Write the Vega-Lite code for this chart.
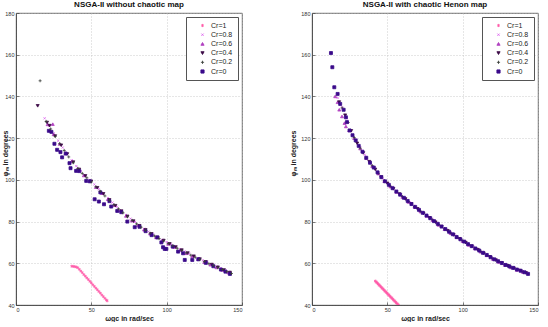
{
  "$schema": "https://vega.github.io/schema/vega-lite/v6.json",
  "padding": {"left": 0, "top": 0, "right": 0, "bottom": 0},
  "background": "white",
  "bounds": "flush",
  "spacing": 70,
  "config": {
    "font": "Liberation Sans",
    "view": {"stroke": "#444", "strokeWidth": 0.8},
    "axis": {
      "labelFontSize": 5.5, "labelColor": "#333", "labelPadding": 5,
      "titleFontSize": 7, "titleFontWeight": "bold", "titleColor": "#222",
      "domainColor": "#444", "domainWidth": 0.8,
      "tickColor": "#444", "tickSize": -3, "tickWidth": 0.7,
      "gridColor": "#b8b8b8", "gridDash": [1, 2], "gridWidth": 0.7
    },
    "title": {"fontSize": 8, "fontWeight": "bold", "offset": 4, "dy": 2, "color": "#111"},
    "legend": {
      "orient": "top-right", "offset": 4, "padding": 5,
      "fillColor": "white", "strokeColor": "#555",
      "labelFontSize": 7, "labelColor": "#222", "labelOffset": 5,
      "symbolOffset": 8, "symbolSize": 10, "symbolStrokeWidth": 0.9,
      "rowPadding": 1.2, "title": null
    }
  },
  "datasets": {
    "left": [
      {"c":"Cr=1","x":37,"y":58.6},{"c":"Cr=1","x":38,"y":58.5},{"c":"Cr=1","x":39,"y":58.4},{"c":"Cr=1","x":40,"y":58.2},{"c":"Cr=1","x":41,"y":57.9},{"c":"Cr=1","x":42,"y":57.1},{"c":"Cr=1","x":43,"y":56.3},{"c":"Cr=1","x":44,"y":55.5},{"c":"Cr=1","x":45,"y":54.6},{"c":"Cr=1","x":46,"y":53.8},{"c":"Cr=1","x":47,"y":53},{"c":"Cr=1","x":48,"y":52.2},{"c":"Cr=1","x":49,"y":51.4},{"c":"Cr=1","x":50,"y":50.6},{"c":"Cr=1","x":51,"y":49.7},{"c":"Cr=1","x":52,"y":48.9},{"c":"Cr=1","x":53,"y":48.1},{"c":"Cr=1","x":54,"y":47.3},{"c":"Cr=1","x":55,"y":46.5},{"c":"Cr=1","x":56,"y":45.7},{"c":"Cr=1","x":57,"y":44.8},{"c":"Cr=1","x":58,"y":44},{"c":"Cr=1","x":59,"y":43.2},{"c":"Cr=1","x":60,"y":42.4},{"c":"Cr=1","x":60.5,"y":42},
      {"c":"Cr=0.8","x":19,"y":129.5},{"c":"Cr=0.8","x":22,"y":125.9},{"c":"Cr=0.8","x":25,"y":122.3},{"c":"Cr=0.8","x":28,"y":118.8},{"c":"Cr=0.8","x":31,"y":115.5},{"c":"Cr=0.8","x":34,"y":112.3},{"c":"Cr=0.8","x":37,"y":109.4},{"c":"Cr=0.8","x":40,"y":106.6},{"c":"Cr=0.8","x":43,"y":104.2},{"c":"Cr=0.8","x":46,"y":101.9},{"c":"Cr=0.8","x":49,"y":100},{"c":"Cr=0.8","x":52,"y":97.8},{"c":"Cr=0.8","x":55,"y":95.5},{"c":"Cr=0.8","x":58,"y":93.4},{"c":"Cr=0.8","x":61,"y":91.2},{"c":"Cr=0.8","x":64,"y":89.1},{"c":"Cr=0.8","x":67,"y":87.1},{"c":"Cr=0.8","x":70,"y":85.1},{"c":"Cr=0.8","x":73,"y":83.2},{"c":"Cr=0.8","x":76,"y":81.4},{"c":"Cr=0.8","x":79,"y":79.8},{"c":"Cr=0.8","x":82,"y":78.2},{"c":"Cr=0.8","x":85,"y":76.6},{"c":"Cr=0.8","x":88,"y":75.2},{"c":"Cr=0.8","x":91,"y":73.8},{"c":"Cr=0.8","x":94,"y":72.5},{"c":"Cr=0.8","x":97,"y":71.3},{"c":"Cr=0.8","x":100,"y":70.2},{"c":"Cr=0.8","x":103,"y":69.1},{"c":"Cr=0.8","x":106,"y":67.9},{"c":"Cr=0.8","x":109,"y":66.8},{"c":"Cr=0.8","x":112,"y":65.7},{"c":"Cr=0.8","x":115,"y":64.6},{"c":"Cr=0.8","x":118,"y":63.5},{"c":"Cr=0.8","x":121,"y":62.5},{"c":"Cr=0.8","x":124,"y":61.4},{"c":"Cr=0.8","x":127,"y":60.5},{"c":"Cr=0.8","x":130,"y":59.5},{"c":"Cr=0.8","x":133,"y":58.5},{"c":"Cr=0.8","x":136,"y":57.6},{"c":"Cr=0.8","x":139,"y":56.6},{"c":"Cr=0.8","x":142,"y":55.7},
      {"c":"Cr=0.6","x":21,"y":126.6},{"c":"Cr=0.6","x":24.4,"y":126.7},{"c":"Cr=0.6","x":25,"y":121.8},{"c":"Cr=0.6","x":29,"y":117.2},{"c":"Cr=0.6","x":33,"y":112.9},{"c":"Cr=0.6","x":37,"y":108.9},{"c":"Cr=0.6","x":41,"y":105.3},{"c":"Cr=0.6","x":45,"y":102.1},{"c":"Cr=0.6","x":49,"y":99.5},{"c":"Cr=0.6","x":53,"y":96.5},{"c":"Cr=0.6","x":57,"y":93.6},{"c":"Cr=0.6","x":61,"y":90.7},{"c":"Cr=0.6","x":65,"y":87.9},{"c":"Cr=0.6","x":69,"y":85.3},{"c":"Cr=0.6","x":73,"y":82.7},{"c":"Cr=0.6","x":77,"y":80.4},{"c":"Cr=0.6","x":81,"y":78.2},{"c":"Cr=0.6","x":85,"y":76.1},{"c":"Cr=0.6","x":89,"y":74.2},{"c":"Cr=0.6","x":93,"y":72.4},{"c":"Cr=0.6","x":97,"y":70.8},{"c":"Cr=0.6","x":101,"y":69.3},{"c":"Cr=0.6","x":105,"y":67.8},{"c":"Cr=0.6","x":109,"y":66.3},{"c":"Cr=0.6","x":113,"y":64.8},{"c":"Cr=0.6","x":117,"y":63.4},{"c":"Cr=0.6","x":121,"y":62},{"c":"Cr=0.6","x":125,"y":60.6},{"c":"Cr=0.6","x":129,"y":59.3},{"c":"Cr=0.6","x":133,"y":58},{"c":"Cr=0.6","x":137,"y":56.8},{"c":"Cr=0.6","x":141,"y":55.5},
      {"c":"Cr=0.4","x":14.4,"y":135.5},{"c":"Cr=0.4","x":20.6,"y":127.5},{"c":"Cr=0.4","x":22.3,"y":126},{"c":"Cr=0.4","x":26,"y":121},{"c":"Cr=0.4","x":30,"y":116.6},{"c":"Cr=0.4","x":34,"y":112.4},{"c":"Cr=0.4","x":38,"y":108.5},{"c":"Cr=0.4","x":42,"y":105},{"c":"Cr=0.4","x":46,"y":101.9},{"c":"Cr=0.4","x":50,"y":99.3},{"c":"Cr=0.4","x":54,"y":96.2},{"c":"Cr=0.4","x":58,"y":93.3},{"c":"Cr=0.4","x":62,"y":90.4},{"c":"Cr=0.4","x":66,"y":87.6},{"c":"Cr=0.4","x":70,"y":85},{"c":"Cr=0.4","x":74,"y":82.5},{"c":"Cr=0.4","x":78,"y":80.2},{"c":"Cr=0.4","x":82,"y":78},{"c":"Cr=0.4","x":86,"y":76},{"c":"Cr=0.4","x":90,"y":74.1},{"c":"Cr=0.4","x":94,"y":72.4},{"c":"Cr=0.4","x":98,"y":70.9},{"c":"Cr=0.4","x":102,"y":69.3},{"c":"Cr=0.4","x":106,"y":67.8},{"c":"Cr=0.4","x":110,"y":66.3},{"c":"Cr=0.4","x":114,"y":64.9},{"c":"Cr=0.4","x":118,"y":63.4},{"c":"Cr=0.4","x":122,"y":62},{"c":"Cr=0.4","x":126,"y":60.7},{"c":"Cr=0.4","x":130,"y":59.4},{"c":"Cr=0.4","x":134,"y":58.1},{"c":"Cr=0.4","x":138,"y":56.8},{"c":"Cr=0.4","x":142,"y":55.6},
      {"c":"Cr=0","x":21.8,"y":123.5},{"c":"Cr=0","x":23.5,"y":123},{"c":"Cr=0","x":25.5,"y":117.3},{"c":"Cr=0","x":27.3,"y":114.4},{"c":"Cr=0","x":29.5,"y":113.3},{"c":"Cr=0","x":30.6,"y":110.8},{"c":"Cr=0","x":33,"y":112.6},{"c":"Cr=0","x":35.5,"y":108},{"c":"Cr=0","x":36.2,"y":105.6},{"c":"Cr=0","x":39.9,"y":104.3},{"c":"Cr=0","x":42,"y":104.2},{"c":"Cr=0","x":46.6,"y":99.5},{"c":"Cr=0","x":49,"y":99.3},{"c":"Cr=0","x":52.2,"y":90.7},{"c":"Cr=0","x":55,"y":89.6},{"c":"Cr=0","x":56,"y":94},{"c":"Cr=0","x":58.4,"y":88.3},{"c":"Cr=0","x":62,"y":89.8},{"c":"Cr=0","x":63.2,"y":87.2},{"c":"Cr=0","x":67.2,"y":85.1},{"c":"Cr=0","x":69.9,"y":84.5},{"c":"Cr=0","x":73.9,"y":80},{"c":"Cr=0","x":78.8,"y":77.3},{"c":"Cr=0","x":82,"y":77.5},{"c":"Cr=0","x":86,"y":75.4},{"c":"Cr=0","x":90,"y":73.5},{"c":"Cr=0","x":93.8,"y":72.4},{"c":"Cr=0","x":96.5,"y":70},{"c":"Cr=0","x":97.6,"y":67.7},{"c":"Cr=0","x":98.7,"y":66.9},{"c":"Cr=0","x":99.8,"y":66.9},{"c":"Cr=0","x":104,"y":68},{"c":"Cr=0","x":107.6,"y":65.6},{"c":"Cr=0","x":110.9,"y":64.8},{"c":"Cr=0","x":112,"y":61.6},{"c":"Cr=0","x":117,"y":61.6},{"c":"Cr=0","x":121,"y":61.9},{"c":"Cr=0","x":126,"y":60.2},{"c":"Cr=0","x":131,"y":58.6},{"c":"Cr=0","x":136,"y":57},{"c":"Cr=0","x":139,"y":56},{"c":"Cr=0","x":142,"y":54.9},
      {"c":"Cr=0.2","x":16,"y":147.5},{"c":"Cr=0.2","x":20,"y":128},{"c":"Cr=0.2","x":23,"y":124.4},{"c":"Cr=0.2","x":26,"y":120.8},{"c":"Cr=0.2","x":29,"y":117.4},{"c":"Cr=0.2","x":32,"y":114.1},{"c":"Cr=0.2","x":35,"y":111},{"c":"Cr=0.2","x":38,"y":108.2},{"c":"Cr=0.2","x":41,"y":105.5},{"c":"Cr=0.2","x":44,"y":103.1},{"c":"Cr=0.2","x":47,"y":101},{"c":"Cr=0.2","x":50,"y":99},{"c":"Cr=0.2","x":53,"y":96.7},{"c":"Cr=0.2","x":56,"y":94.5},{"c":"Cr=0.2","x":59,"y":92.3},{"c":"Cr=0.2","x":62,"y":90.2},{"c":"Cr=0.2","x":65,"y":88.1},{"c":"Cr=0.2","x":68,"y":86.1},{"c":"Cr=0.2","x":71,"y":84.2},{"c":"Cr=0.2","x":74,"y":82.3},{"c":"Cr=0.2","x":77,"y":80.6},{"c":"Cr=0.2","x":80,"y":78.9},{"c":"Cr=0.2","x":83,"y":77.3},{"c":"Cr=0.2","x":86,"y":75.8},{"c":"Cr=0.2","x":89,"y":74.4},{"c":"Cr=0.2","x":92,"y":73.1},{"c":"Cr=0.2","x":95,"y":71.8},{"c":"Cr=0.2","x":98,"y":70.7},{"c":"Cr=0.2","x":101,"y":69.5},{"c":"Cr=0.2","x":104,"y":68.4},{"c":"Cr=0.2","x":107,"y":67.2},{"c":"Cr=0.2","x":110,"y":66.1},{"c":"Cr=0.2","x":113,"y":65},{"c":"Cr=0.2","x":116,"y":63.9},{"c":"Cr=0.2","x":119,"y":62.9},{"c":"Cr=0.2","x":122,"y":61.8},{"c":"Cr=0.2","x":125,"y":60.8},{"c":"Cr=0.2","x":128,"y":59.8},{"c":"Cr=0.2","x":131,"y":58.9},{"c":"Cr=0.2","x":134,"y":57.9},{"c":"Cr=0.2","x":137,"y":57},{"c":"Cr=0.2","x":140,"y":56},{"c":"Cr=0.2","x":143,"y":55.1}
    ],
    "right": [
      {"c":"Cr=1","x":42,"y":51.5},{"c":"Cr=1","x":42.5,"y":51.1},{"c":"Cr=1","x":43,"y":50.8},{"c":"Cr=1","x":43.5,"y":50.4},{"c":"Cr=1","x":44,"y":50},{"c":"Cr=1","x":44.5,"y":49.6},{"c":"Cr=1","x":45,"y":49.3},{"c":"Cr=1","x":45.5,"y":48.9},{"c":"Cr=1","x":46,"y":48.5},{"c":"Cr=1","x":46.5,"y":48.1},{"c":"Cr=1","x":47,"y":47.8},{"c":"Cr=1","x":47.5,"y":47.4},{"c":"Cr=1","x":48,"y":47},{"c":"Cr=1","x":48.5,"y":46.6},{"c":"Cr=1","x":49,"y":46.3},{"c":"Cr=1","x":49.5,"y":45.9},{"c":"Cr=1","x":50,"y":45.5},{"c":"Cr=1","x":50.5,"y":45.1},{"c":"Cr=1","x":51,"y":44.8},{"c":"Cr=1","x":51.5,"y":44.4},{"c":"Cr=1","x":52,"y":44},{"c":"Cr=1","x":52.5,"y":43.6},{"c":"Cr=1","x":53,"y":43.3},{"c":"Cr=1","x":53.5,"y":42.9},{"c":"Cr=1","x":54,"y":42.5},{"c":"Cr=1","x":54.5,"y":42.1},{"c":"Cr=1","x":55,"y":41.8},{"c":"Cr=1","x":55.5,"y":41.4},{"c":"Cr=1","x":56,"y":41},{"c":"Cr=1","x":56.5,"y":40.6},{"c":"Cr=1","x":57,"y":40.3},{"c":"Cr=1","x":57.5,"y":39.9},
      {"c":"Cr=0.8","x":17,"y":139.3},{"c":"Cr=0.8","x":20,"y":134.8},{"c":"Cr=0.8","x":23,"y":129.5},{"c":"Cr=0.8","x":26,"y":123.8},{"c":"Cr=0.8","x":29,"y":119.2},{"c":"Cr=0.8","x":32,"y":115.5},{"c":"Cr=0.8","x":35,"y":112},{"c":"Cr=0.8","x":38,"y":109},{"c":"Cr=0.8","x":41,"y":106.2},{"c":"Cr=0.8","x":44,"y":103.5},{"c":"Cr=0.8","x":47,"y":100.6},{"c":"Cr=0.8","x":50,"y":98.6},{"c":"Cr=0.8","x":53,"y":96.7},{"c":"Cr=0.8","x":56,"y":94.7},{"c":"Cr=0.8","x":59,"y":92.9},{"c":"Cr=0.8","x":62,"y":91.1},{"c":"Cr=0.8","x":65,"y":89.3},{"c":"Cr=0.8","x":68,"y":87.6},{"c":"Cr=0.8","x":71,"y":85.8},{"c":"Cr=0.8","x":74,"y":84.2},{"c":"Cr=0.8","x":77,"y":82.6},{"c":"Cr=0.8","x":80,"y":81.1},{"c":"Cr=0.8","x":83,"y":79.4},{"c":"Cr=0.8","x":86,"y":77.9},{"c":"Cr=0.8","x":89,"y":76.4},{"c":"Cr=0.8","x":92,"y":74.9},{"c":"Cr=0.8","x":95,"y":73.4},{"c":"Cr=0.8","x":98,"y":72},{"c":"Cr=0.8","x":101,"y":70.6},{"c":"Cr=0.8","x":104,"y":69.3},{"c":"Cr=0.8","x":107,"y":68},{"c":"Cr=0.8","x":110,"y":66.8},{"c":"Cr=0.8","x":113,"y":65.5},{"c":"Cr=0.8","x":116,"y":64.3},{"c":"Cr=0.8","x":119,"y":63},{"c":"Cr=0.8","x":122,"y":61.8},{"c":"Cr=0.8","x":125,"y":60.7},{"c":"Cr=0.8","x":128,"y":59.7},{"c":"Cr=0.8","x":131,"y":58.8},{"c":"Cr=0.8","x":134,"y":57.9},{"c":"Cr=0.8","x":137,"y":57},{"c":"Cr=0.8","x":140,"y":56.3},{"c":"Cr=0.8","x":143,"y":55.3},
      {"c":"Cr=0.6","x":15.4,"y":140},{"c":"Cr=0.6","x":17,"y":137.2},{"c":"Cr=0.6","x":18.1,"y":133.6},{"c":"Cr=0.6","x":19.9,"y":130.4},{"c":"Cr=0.6","x":21.6,"y":127.2},{"c":"Cr=0.6","x":22.5,"y":125.6},{"c":"Cr=0.6","x":24.7,"y":123.7},{"c":"Cr=0.6","x":28,"y":120},{"c":"Cr=0.6","x":32,"y":115},{"c":"Cr=0.6","x":36,"y":110.4},{"c":"Cr=0.6","x":40,"y":106.6},{"c":"Cr=0.6","x":44,"y":103},{"c":"Cr=0.6","x":48,"y":99.4},{"c":"Cr=0.6","x":52,"y":96.8},{"c":"Cr=0.6","x":56,"y":94.2},{"c":"Cr=0.6","x":60,"y":91.8},{"c":"Cr=0.6","x":64,"y":89.4},{"c":"Cr=0.6","x":68,"y":87.1},{"c":"Cr=0.6","x":72,"y":84.8},{"c":"Cr=0.6","x":76,"y":82.7},{"c":"Cr=0.6","x":80,"y":80.6},{"c":"Cr=0.6","x":84,"y":78.4},{"c":"Cr=0.6","x":88,"y":76.4},{"c":"Cr=0.6","x":92,"y":74.4},{"c":"Cr=0.6","x":96,"y":72.4},{"c":"Cr=0.6","x":100,"y":70.6},{"c":"Cr=0.6","x":104,"y":68.8},{"c":"Cr=0.6","x":108,"y":67.1},{"c":"Cr=0.6","x":112,"y":65.5},{"c":"Cr=0.6","x":116,"y":63.8},{"c":"Cr=0.6","x":120,"y":62.1},{"c":"Cr=0.6","x":124,"y":60.6},{"c":"Cr=0.6","x":128,"y":59.2},{"c":"Cr=0.6","x":132,"y":58},{"c":"Cr=0.6","x":136,"y":56.8},{"c":"Cr=0.6","x":140,"y":55.8},
      {"c":"Cr=0.4","x":18,"y":137.3},{"c":"Cr=0.4","x":22,"y":131},{"c":"Cr=0.4","x":26,"y":123.5},{"c":"Cr=0.4","x":30,"y":117.5},{"c":"Cr=0.4","x":34,"y":112.9},{"c":"Cr=0.4","x":38,"y":108.7},{"c":"Cr=0.4","x":42,"y":105},{"c":"Cr=0.4","x":46,"y":101.3},{"c":"Cr=0.4","x":50,"y":98.3},{"c":"Cr=0.4","x":54,"y":95.7},{"c":"Cr=0.4","x":58,"y":93.2},{"c":"Cr=0.4","x":62,"y":90.8},{"c":"Cr=0.4","x":66,"y":88.4},{"c":"Cr=0.4","x":70,"y":86.1},{"c":"Cr=0.4","x":74,"y":83.9},{"c":"Cr=0.4","x":78,"y":81.8},{"c":"Cr=0.4","x":82,"y":79.7},{"c":"Cr=0.4","x":86,"y":77.6},{"c":"Cr=0.4","x":90,"y":75.6},{"c":"Cr=0.4","x":94,"y":73.6},{"c":"Cr=0.4","x":98,"y":71.7},{"c":"Cr=0.4","x":102,"y":69.9},{"c":"Cr=0.4","x":106,"y":68.2},{"c":"Cr=0.4","x":110,"y":66.5},{"c":"Cr=0.4","x":114,"y":64.8},{"c":"Cr=0.4","x":118,"y":63.1},{"c":"Cr=0.4","x":122,"y":61.5},{"c":"Cr=0.4","x":126,"y":60.1},{"c":"Cr=0.4","x":130,"y":58.8},{"c":"Cr=0.4","x":134,"y":57.6},{"c":"Cr=0.4","x":138,"y":56.5},{"c":"Cr=0.4","x":142,"y":55.4},
      {"c":"Cr=0.2","x":20,"y":134.5},{"c":"Cr=0.2","x":24,"y":127.5},{"c":"Cr=0.2","x":28,"y":120.3},{"c":"Cr=0.2","x":32,"y":115.2},{"c":"Cr=0.2","x":36,"y":110.6},{"c":"Cr=0.2","x":40,"y":106.8},{"c":"Cr=0.2","x":44,"y":103.2},{"c":"Cr=0.2","x":48,"y":99.6},{"c":"Cr=0.2","x":52,"y":97},{"c":"Cr=0.2","x":56,"y":94.4},{"c":"Cr=0.2","x":60,"y":92},{"c":"Cr=0.2","x":64,"y":89.6},{"c":"Cr=0.2","x":68,"y":87.3},{"c":"Cr=0.2","x":72,"y":85},{"c":"Cr=0.2","x":76,"y":82.9},{"c":"Cr=0.2","x":80,"y":80.8},{"c":"Cr=0.2","x":84,"y":78.6},{"c":"Cr=0.2","x":88,"y":76.6},{"c":"Cr=0.2","x":92,"y":74.6},{"c":"Cr=0.2","x":96,"y":72.6},{"c":"Cr=0.2","x":100,"y":70.8},{"c":"Cr=0.2","x":104,"y":69},{"c":"Cr=0.2","x":108,"y":67.3},{"c":"Cr=0.2","x":112,"y":65.7},{"c":"Cr=0.2","x":116,"y":64},{"c":"Cr=0.2","x":120,"y":62.3},{"c":"Cr=0.2","x":124,"y":60.8},{"c":"Cr=0.2","x":128,"y":59.4},{"c":"Cr=0.2","x":132,"y":58.2},{"c":"Cr=0.2","x":136,"y":57},{"c":"Cr=0.2","x":140,"y":56},
      {"c":"Cr=0","x":12.6,"y":160.8},{"c":"Cr=0","x":13.5,"y":154},{"c":"Cr=0","x":14.8,"y":144.4},{"c":"Cr=0","x":17,"y":141.2},{"c":"Cr=0","x":18.7,"y":136.4},{"c":"Cr=0","x":21,"y":133.6},{"c":"Cr=0","x":22.5,"y":130},{"c":"Cr=0","x":23.2,"y":127.7},{"c":"Cr=0","x":24.9,"y":123.7},{"c":"Cr=0","x":26.9,"y":121.4},{"c":"Cr=0","x":29,"y":118.9},{"c":"Cr=0","x":31,"y":116.3},{"c":"Cr=0","x":33.5,"y":113.5},{"c":"Cr=0","x":36,"y":110.6},{"c":"Cr=0","x":38.5,"y":108.2},{"c":"Cr=0","x":41,"y":105.9},{"c":"Cr=0","x":43.5,"y":103.6},{"c":"Cr=0","x":46,"y":101.3},{"c":"Cr=0","x":48.5,"y":99.3},{"c":"Cr=0","x":51,"y":97.6},{"c":"Cr=0","x":53.5,"y":96},{"c":"Cr=0","x":56,"y":94.4},{"c":"Cr=0","x":58.5,"y":92.9},{"c":"Cr=0","x":61,"y":91.4},{"c":"Cr=0","x":63.5,"y":89.9},{"c":"Cr=0","x":66,"y":88.4},{"c":"Cr=0","x":68.5,"y":87},{"c":"Cr=0","x":71,"y":85.6},{"c":"Cr=0","x":73.5,"y":84.2},{"c":"Cr=0","x":76,"y":82.9},{"c":"Cr=0","x":78.5,"y":81.6},{"c":"Cr=0","x":81,"y":80.2},{"c":"Cr=0","x":83.5,"y":78.9},{"c":"Cr=0","x":86,"y":77.6},{"c":"Cr=0","x":88.5,"y":76.4},{"c":"Cr=0","x":91,"y":75.1},{"c":"Cr=0","x":93.5,"y":73.9},{"c":"Cr=0","x":96,"y":72.6},{"c":"Cr=0","x":98.5,"y":71.5},{"c":"Cr=0","x":101,"y":70.4},{"c":"Cr=0","x":103.5,"y":69.2},{"c":"Cr=0","x":106,"y":68.2},{"c":"Cr=0","x":108.5,"y":67.1},{"c":"Cr=0","x":111,"y":66.1},{"c":"Cr=0","x":113.5,"y":65},{"c":"Cr=0","x":116,"y":64},{"c":"Cr=0","x":118.5,"y":62.9},{"c":"Cr=0","x":121,"y":61.9},{"c":"Cr=0","x":123.5,"y":61},{"c":"Cr=0","x":126,"y":60.1},{"c":"Cr=0","x":128.5,"y":59.2},{"c":"Cr=0","x":131,"y":58.5},{"c":"Cr=0","x":133.5,"y":57.8},{"c":"Cr=0","x":136,"y":57},{"c":"Cr=0","x":138.5,"y":56.4},{"c":"Cr=0","x":141,"y":55.7},{"c":"Cr=0","x":143.4,"y":54.9}
    ]
  },
  "resolve": {"scale": {"fill": "independent", "stroke": "independent", "shape": "independent"}},
  "hconcat": [
    {
      "title": "NSGA-II without chaotic map",
      "width": 226, "height": 292,
      "data": {"name": "left"},
      "mark": {"type": "point", "opacity": 1, "strokeWidth": 0.8, "size": 9, "clip": true},
      "encoding": {
        "x": {"field": "x", "type": "quantitative", "scale": {"domain": [0, 150], "nice": false, "zero": false},
              "axis": {"values": [0, 50, 100, 150], "title": "ωgc in rad/sec", "titlePadding": 2}},
        "y": {"field": "y", "type": "quantitative", "scale": {"domain": [40, 180], "nice": false, "zero": false},
              "axis": {"values": [40, 60, 80, 100, 120, 140, 160, 180], "title": "φₘ in degrees", "titleX": -8, "titleY": 140}},
        "fill": {"field": "c", "type": "nominal",
                 "scale": {"domain": ["Cr=1", "Cr=0.8", "Cr=0.6", "Cr=0.4", "Cr=0.2", "Cr=0"],
                           "range": ["#ff5aa8", "#dc62ee", "#b040c0", "#3c0a46", "#3a3f3a", "#3a0a8a"]}},
        "stroke": {"field": "c", "type": "nominal",
                 "scale": {"domain": ["Cr=1", "Cr=0.8", "Cr=0.6", "Cr=0.4", "Cr=0.2", "Cr=0"],
                           "range": ["#ff5aa8", "#dc62ee", "#b040c0", "#3c0a46", "#3a3f3a", "#3a0a8a"]}},
        "shape": {"field": "c", "type": "nominal",
                 "scale": {"domain": ["Cr=1", "Cr=0.8", "Cr=0.6", "Cr=0.4", "Cr=0.2", "Cr=0"],
                           "range": ["M0,-1L0,1M-0.87,-0.5L0.87,0.5M-0.87,0.5L0.87,-0.5", "M-0.7,-0.7L0.7,0.7M-0.7,0.7L0.7,-0.7", "triangle-up", "triangle-down", "M-1,0L1,0M0,-1L0,1", "square"]}}
      }
    },
    {
      "title": "NSGA-II with chaotic Henon map",
      "width": 226, "height": 292,
      "data": {"name": "right"},
      "mark": {"type": "point", "opacity": 1, "strokeWidth": 0.8, "size": 9, "clip": true},
      "encoding": {
        "x": {"field": "x", "type": "quantitative", "scale": {"domain": [0, 150], "nice": false, "zero": false},
              "axis": {"values": [0, 50, 100, 150], "title": "ωgc in rad/sec", "titlePadding": 2}},
        "y": {"field": "y", "type": "quantitative", "scale": {"domain": [40, 180], "nice": false, "zero": false},
              "axis": {"values": [40, 60, 80, 100, 120, 140, 160, 180], "title": "φₘ in degrees", "titleX": -16, "titleY": 140}},
        "fill": {"field": "c", "type": "nominal",
                 "scale": {"domain": ["Cr=1", "Cr=0.8", "Cr=0.6", "Cr=0.4", "Cr=0.2", "Cr=0"],
                           "range": ["#ff5aa8", "#dc62ee", "#b040c0", "#3c0a46", "#3a3f3a", "#3a0a8a"]}},
        "stroke": {"field": "c", "type": "nominal",
                 "scale": {"domain": ["Cr=1", "Cr=0.8", "Cr=0.6", "Cr=0.4", "Cr=0.2", "Cr=0"],
                           "range": ["#ff5aa8", "#dc62ee", "#b040c0", "#3c0a46", "#3a3f3a", "#3a0a8a"]}},
        "shape": {"field": "c", "type": "nominal",
                 "scale": {"domain": ["Cr=1", "Cr=0.8", "Cr=0.6", "Cr=0.4", "Cr=0.2", "Cr=0"],
                           "range": ["M0,-1L0,1M-0.87,-0.5L0.87,0.5M-0.87,0.5L0.87,-0.5", "M-0.7,-0.7L0.7,0.7M-0.7,0.7L0.7,-0.7", "triangle-up", "triangle-down", "M-1,0L1,0M0,-1L0,1", "square"]}}
      }
    }
  ]
}
